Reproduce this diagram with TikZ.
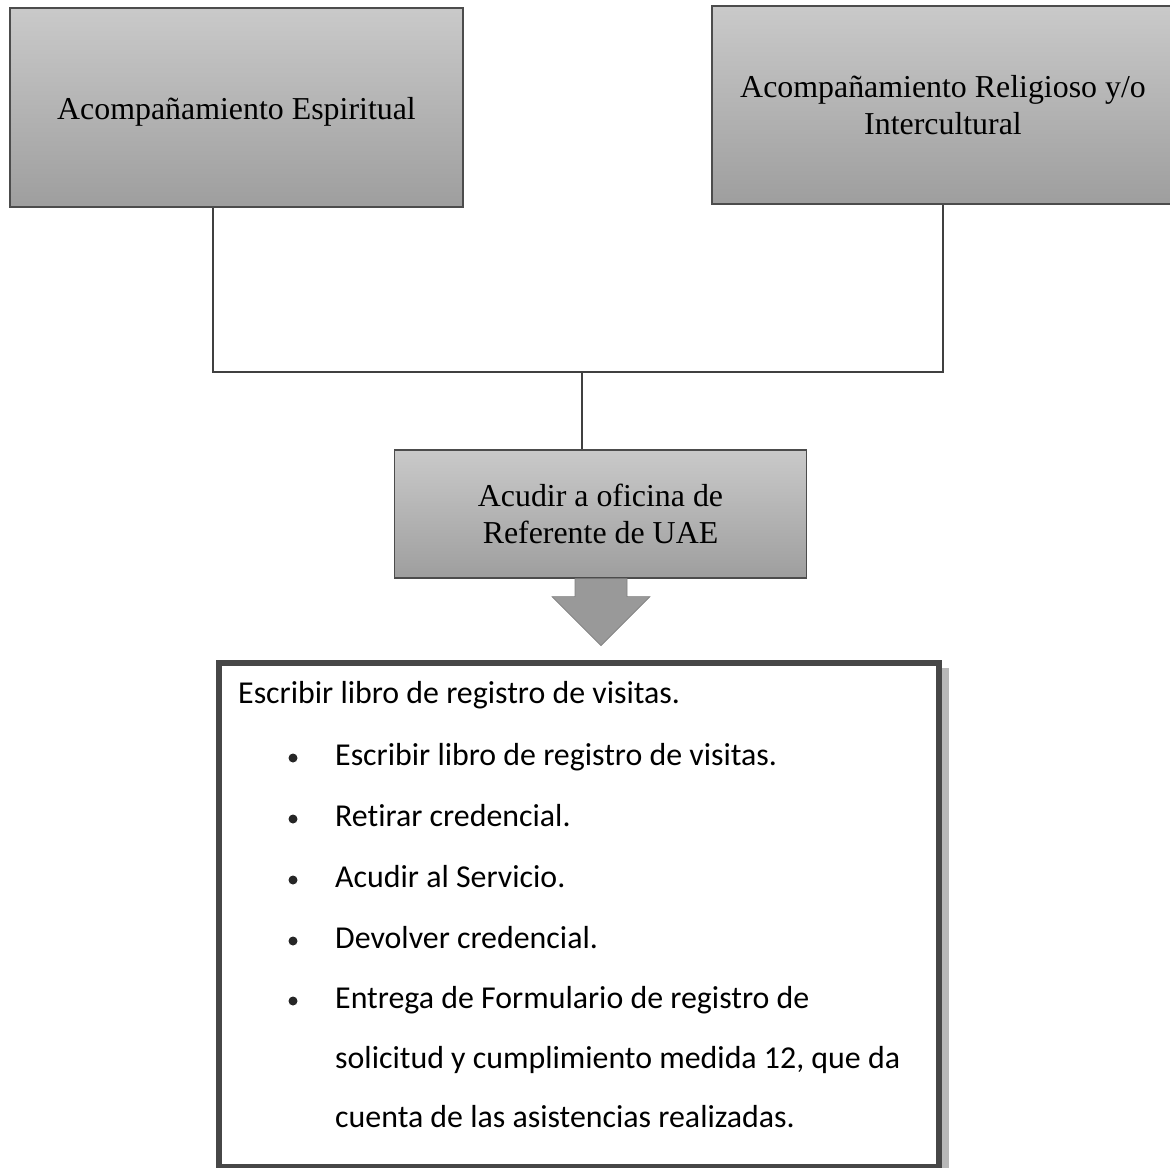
\documentclass[tikz,border=0pt]{standalone}
\usepackage{fontspec}
\setmainfont{Liberation Serif}
\newfontfamily\calib[Ligatures=NoCommon]{Carlito}
\begin{document}
\begin{tikzpicture}[x=1bp,y=-1bp,
  gbox/.style={draw=black!70, line width=1.2bp, top color=black!21, middle color=black!14, bottom color=black!38,
    inner sep=0pt, align=center, font=\fontsize{32}{37}\selectfont},
  conn/.style={draw=black!75, line width=1.6bp},
  arrowfill/.style={fill=black!40, draw=black!50, line width=0.6bp},
  listbox/.style={draw=black!72, line width=4bp, inner sep=0pt, anchor=north west},
  shadowfill/.style={fill=black!28},
  ltext/.style={anchor=base west, inner sep=0pt, font=\calib\fontsize{32}{38}\selectfont},
  bul/.style={circle, fill=black!85, inner sep=0pt, minimum size=9bp}]
\useasboundingbox (0,0) rectangle (1170,1168);

% top boxes
\node[gbox, minimum width=453bp, minimum height=199bp, text height=32bp, text depth=8bp] (b1) at (236.5,107.5) {Acompañamiento Espiritual};
\node[gbox, minimum width=462bp, minimum height=198bp] (b2) at (943,105) {Acompañamiento Religioso y/o\\Intercultural};

% middle box
\node[gbox, minimum width=412bp, minimum height=128bp] (b3) at (600.5,514) {Acudir a oficina de\\Referente de UAE};

% connectors
\coordinate (j) at (582,372);
\draw[conn] ([xshift=-23.5bp]b1.south) |- (j) -| (b2.south);
\draw[conn] (j) -- (j |- b3.north);

% block arrow
\path[arrowfill] (b3.south) ++(-25.5,0) -- ++(0,18) -- ++(-23,0) -- ++(49,49) -- ++(49,-49) -- ++(-23,0) -- ++(0,-18) -- cycle;

% list box
\node[listbox, minimum width=718bp, minimum height=502bp] (b4) at (218,662) {};
\fill[shadowfill] ([shift={(2,6)}]b4.north east) rectangle ([shift={(9,4)}]b4.south east);
\draw[draw=black!72, line width=4bp] (b4.north west) rectangle (b4.south east);

\node[ltext] (t0) at (238,703) {Escribir libro de registro de visitas.};
\node[ltext] (t1) at (335,765) {Escribir libro de registro de visitas.};
\node[ltext] (t2) at (335,826) {Retirar credencial.};
\node[ltext] (t3) at (335,887) {Acudir al Servicio.};
\node[ltext] (t4) at (335,948) {Devolver credencial.};
\node[ltext] (t5) at (335,1008) {Entrega de Formulario de registro de};
\node[ltext] (t6) at (335,1068) {solicitud y cumplimiento medida 12, que da};
\node[ltext] (t7) at (335,1127) {cuenta de las asistencias realizadas.};

\node[bul] (u1) at (293,758) {};
\node[bul] (u2) at (293,819) {};
\node[bul] (u3) at (293,880) {};
\node[bul] (u4) at (293,941) {};
\node[bul] (u5) at (293,1001) {};
\end{tikzpicture}
\end{document}
